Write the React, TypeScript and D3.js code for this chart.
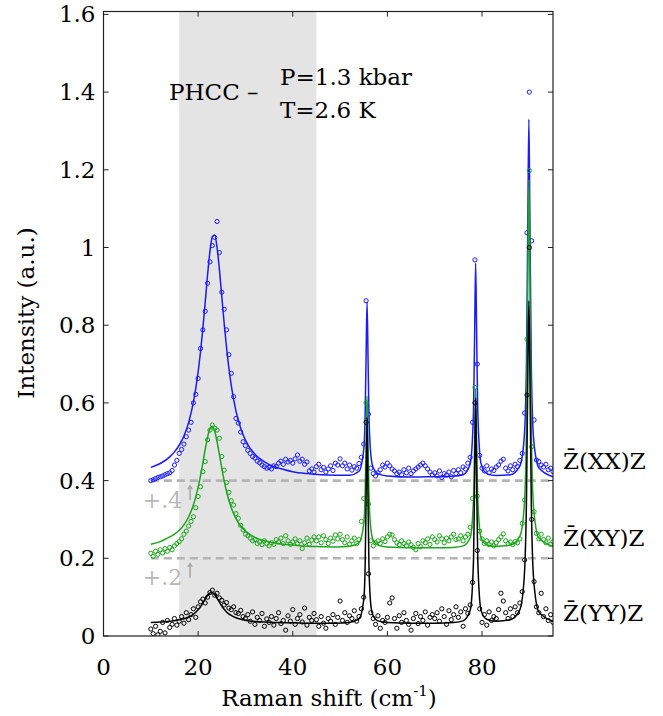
import React from "react";
import * as d3 from "d3";

// Raman spectra of PHCC, three polarisations, shifted by +0.2 / +0.4
const W = 663;
const H = 716;

const xTicks = [0, 20, 40, 60, 80];
const yTicks = [0, 0.2, 0.4, 0.6, 0.8, 1, 1.2, 1.4, 1.6];
const yTickLabels = ["0", "0.2", "0.4", "0.6", "0.8", "1", "1.2", "1.4", "1.6"];

const shadeRange = [16, 45];
const offsetLevels = [0.2, 0.4];
const offsetLabels = ["+.2", "+.4"];

// measured points sit on a 0.5 cm-1 grid from 10 to 95
const dataX = d3.range(171).map((i) => 10 + i * 0.5);

const yyData = [
  0.018, 0.006, 0.025, 0.003, 0.012, 0.035, 0.008, 0.040, 0.022, 0.030,
  0.045, 0.028, 0.038, 0.050, 0.033, 0.060, 0.042, 0.055, 0.070, 0.048,
  0.075, 0.088, 0.095, 0.085, 0.100, 0.112, 0.118, 0.105, 0.110, 0.098,
  0.092, 0.080, 0.086, 0.072, 0.068, 0.075, 0.060, 0.058, 0.066, 0.050,
  0.045, 0.055, 0.038, 0.062, 0.030, 0.048, 0.040, 0.058, 0.025, 0.044,
  0.035, 0.050, 0.028, 0.045, 0.060, 0.032, 0.040, 0.015, 0.052, 0.038,
  0.068, 0.030, 0.045, 0.055, 0.036, 0.072, 0.028, 0.048, 0.040, 0.058,
  0.042, 0.025, 0.050, 0.033, 0.020, 0.045, 0.038, 0.055, 0.030, 0.048,
  0.090, 0.040, 0.060, 0.035, 0.052, 0.045, 0.065, 0.038, 0.050, 0.070,
  0.100, 0.550, 0.160, 0.060, 0.045, 0.030, 0.052, 0.020, 0.040, 0.035,
  0.048, 0.085, 0.098, 0.045, 0.020, 0.052, 0.035, 0.060, 0.040, 0.030,
  0.015, 0.045, 0.058, 0.032, 0.050, 0.040, 0.062, 0.028, 0.048, 0.055,
  0.045, 0.060, 0.038, 0.070, 0.050, 0.030, 0.065, 0.042, 0.055, 0.075,
  0.048, 0.062, 0.025, 0.070, 0.058, 0.080, 0.138, 0.600, 0.220, 0.070,
  0.035, 0.055, 0.028, 0.062, 0.040, 0.050, 0.045, 0.068, 0.110, 0.090,
  0.060, 0.045, 0.070, 0.050, 0.075, 0.060, 0.085, 0.114, 0.196, 0.620,
  1.000, 0.300, 0.140, 0.075, 0.060, 0.110, 0.050, 0.070, 0.040, 0.055, 0.035,
];

const xyData = [
  0.213, 0.205, 0.218, 0.210, 0.222, 0.214, 0.225, 0.218, 0.228, 0.222,
  0.232, 0.238, 0.243, 0.250, 0.262, 0.270, 0.283, 0.295, 0.307, 0.330,
  0.359, 0.384, 0.423, 0.449, 0.505, 0.530, 0.543, 0.535, 0.530, 0.509,
  0.462, 0.427, 0.395, 0.370, 0.348, 0.337, 0.315, 0.303, 0.285, 0.273,
  0.262, 0.258, 0.252, 0.245, 0.248, 0.238, 0.242, 0.235, 0.245, 0.238,
  0.232, 0.240, 0.236, 0.248, 0.242, 0.252, 0.238, 0.258, 0.245, 0.236,
  0.242, 0.250, 0.238, 0.245, 0.225, 0.240, 0.252, 0.236, 0.247, 0.255,
  0.245, 0.255, 0.240, 0.258, 0.248, 0.238, 0.252, 0.244, 0.260, 0.250,
  0.262, 0.248, 0.240, 0.255, 0.236, 0.245, 0.252, 0.238, 0.248, 0.295,
  0.354, 0.600, 0.340, 0.245, 0.232, 0.240, 0.245, 0.238, 0.250, 0.243,
  0.255, 0.262, 0.260, 0.248, 0.240, 0.235, 0.245, 0.238, 0.232, 0.242,
  0.235, 0.228, 0.222, 0.238, 0.230, 0.245, 0.240, 0.250, 0.236, 0.255,
  0.248, 0.242, 0.258, 0.250, 0.240, 0.252, 0.245, 0.255, 0.262, 0.248,
  0.250, 0.258, 0.245, 0.255, 0.262, 0.280, 0.354, 0.640, 0.360, 0.270,
  0.250, 0.238, 0.245, 0.235, 0.242, 0.232, 0.240, 0.248, 0.255, 0.263,
  0.245, 0.238, 0.242, 0.235, 0.243, 0.240, 0.250, 0.290, 0.350, 0.764,
  1.198, 0.487, 0.320, 0.264, 0.250, 0.262, 0.248, 0.240, 0.252, 0.236, 0.243,
];

const xxData = [
  0.400, 0.402, 0.405, 0.408, 0.410, 0.412, 0.415, 0.418, 0.420, 0.426,
  0.440, 0.452, 0.470, 0.480, 0.494, 0.513, 0.530, 0.550, 0.600, 0.622,
  0.663, 0.740, 0.788, 0.836, 0.908, 0.963, 1.005, 1.026, 1.067, 0.987,
  0.885, 0.841, 0.788, 0.724, 0.676, 0.616, 0.560, 0.548, 0.525, 0.500,
  0.490, 0.478, 0.470, 0.462, 0.458, 0.450, 0.446, 0.440, 0.436, 0.432,
  0.434, 0.430, 0.438, 0.436, 0.445, 0.450, 0.442, 0.455, 0.448, 0.452,
  0.445, 0.456, 0.466, 0.450, 0.455, 0.442, 0.448, 0.425, 0.430, 0.422,
  0.436, 0.442, 0.428, 0.434, 0.422, 0.430, 0.438, 0.426, 0.445, 0.440,
  0.456, 0.438, 0.445, 0.430, 0.440, 0.427, 0.436, 0.432, 0.444, 0.460,
  0.494, 0.863, 0.571, 0.432, 0.418, 0.412, 0.420, 0.428, 0.440, 0.435,
  0.445, 0.438, 0.430, 0.425, 0.418, 0.422, 0.415, 0.428, 0.420, 0.432,
  0.418, 0.425, 0.430, 0.435, 0.440, 0.445, 0.438, 0.430, 0.422, 0.415,
  0.420, 0.412, 0.425, 0.408, 0.418, 0.414, 0.422, 0.410, 0.426, 0.418,
  0.428, 0.420, 0.435, 0.430, 0.445, 0.460, 0.550, 0.968, 0.700, 0.465,
  0.432, 0.425, 0.438, 0.420, 0.430, 0.426, 0.435, 0.440, 0.450, 0.455,
  0.432, 0.425, 0.438, 0.428, 0.442, 0.436, 0.452, 0.470, 0.574, 1.038,
  1.400, 1.017, 0.556, 0.453, 0.449, 0.440, 0.435, 0.442, 0.428, 0.432, 0.423,
];

// fitted curves, read at these shifts
const fitX = [
  10, 12, 14, 15, 16, 17, 18, 19, 20,
  20.5, 21, 21.5, 22, 22.5, 23, 23.5, 24, 24.5, 25, 25.5, 26,
  27, 28, 29, 30, 32, 34, 36, 38, 40, 43, 46, 49, 52, 54,
  55, 55.3, 55.5, 55.7, 55.9, 56.1, 56.5, 57, 58,
  60, 65, 70, 74, 76,
  77.5, 78.2, 78.45, 78.65, 78.85, 79.1, 79.8,
  81, 83, 86, 88,
  88.9, 89.4, 89.7, 89.9, 90.1, 90.4, 90.9,
  92, 95,
];

const xxFit = [
  0.434, 0.444, 0.461, 0.474, 0.491, 0.515, 0.550, 0.602, 0.680,
  0.731, 0.792, 0.860, 0.930, 0.990, 1.028, 1.032, 1.000, 0.943, 0.874, 0.805, 0.743,
  0.645, 0.579, 0.535, 0.504, 0.468, 0.448, 0.436, 0.429, 0.423, 0.418, 0.415, 0.414, 0.414, 0.424,
  0.480, 0.572, 0.722, 0.860, 0.722, 0.572, 0.466, 0.433, 0.418,
  0.412, 0.409, 0.410, 0.411, 0.415,
  0.443, 0.577, 0.790, 0.960, 0.790, 0.577, 0.443,
  0.418, 0.413, 0.415, 0.438,
  0.508, 0.710, 1.100, 1.330, 1.100, 0.710, 0.508,
  0.433, 0.410,
];

const xyFit = [
  0.236, 0.243, 0.255, 0.262, 0.272, 0.286, 0.307, 0.337, 0.383,
  0.412, 0.445, 0.481, 0.512, 0.534, 0.540, 0.527, 0.500, 0.467, 0.432, 0.400, 0.372,
  0.330, 0.302, 0.283, 0.270, 0.254, 0.245, 0.240, 0.236, 0.234, 0.231, 0.230, 0.229, 0.231, 0.240,
  0.288, 0.368, 0.498, 0.618, 0.498, 0.368, 0.276, 0.247, 0.234,
  0.229, 0.227, 0.227, 0.228, 0.232,
  0.253, 0.353, 0.511, 0.637, 0.511, 0.353, 0.253,
  0.235, 0.231, 0.234, 0.257,
  0.330, 0.539, 0.943, 1.175, 0.943, 0.539, 0.330,
  0.252, 0.231,
];

const yyFit = [
  0.035, 0.036, 0.038, 0.0395, 0.0415, 0.0445, 0.049, 0.056, 0.0675,
  0.075, 0.085, 0.095, 0.1046, 0.111, 0.1115, 0.106, 0.097, 0.087, 0.077, 0.069, 0.062,
  0.053, 0.047, 0.043, 0.0406, 0.0375, 0.036, 0.035, 0.034, 0.034, 0.033, 0.033, 0.033, 0.035, 0.044,
  0.093, 0.182, 0.356, 0.563, 0.356, 0.182, 0.080, 0.052, 0.039,
  0.035, 0.033, 0.033, 0.035, 0.039,
  0.066, 0.195, 0.417, 0.613, 0.417, 0.195, 0.066,
  0.043, 0.038, 0.042, 0.068,
  0.148, 0.357, 0.697, 0.863, 0.697, 0.357, 0.148,
  0.062, 0.038,
];

const seriesList = [
  { name: "Z\u0304(XX)Z", color: "#1a1aff", data: xxData, fit: xxFit, labelAt: 0.43 },
  { name: "Z\u0304(XY)Z", color: "#1aa51a", data: xyData, fit: xyFit, labelAt: 0.232 },
  { name: "Z\u0304(YY)Z", color: "#000000", data: yyData, fit: yyFit, labelAt: 0.038 },
];

const FONT = "'DejaVu Serif', 'Liberation Serif', 'Times New Roman', Times, 'Noto Serif', serif";

export default function App() {
  const left = 103.5, right = 553, top = 11.5, bottom = 636;
  const x = d3.scaleLinear().domain([0, 95]).range([left, right]);
  const y = d3.scaleLinear().domain([0, 1.6075]).range([bottom, top]);
  const tick = 5;
  const fs = 23;

  const fitLine = d3
    .line<number>()
    .x((_, i) => x(fitX[i]))
    .y((d) => y(d))
    .curve(d3.curveMonotoneX);

  return (
    <svg width={W} height={H} style={{ position: "absolute", left: 0, top: 0, background: "#fff", fontFamily: FONT }}>
      <defs>
        <clipPath id="plot">
          <rect x={left} y={top} width={right - left} height={bottom - top} />
        </clipPath>
      </defs>

      {/* shaded region */}
      <rect x={x(shadeRange[0])} y={top} width={x(shadeRange[1]) - x(shadeRange[0])} height={bottom - top} fill="#e4e4e4" />

      {/* offset guides */}
      {offsetLevels.map((lv, i) => (
        <g key={"off" + i}>
          <line x1={x(10)} x2={right} y1={y(lv)} y2={y(lv)} stroke="#b4b4b4" strokeWidth={2.6} strokeDasharray="8,5" />
          <line x1={x(18.3)} x2={x(18.3)} y1={y(lv - 0.05)} y2={y(lv - 0.022)} stroke="#a8a8a8" strokeWidth={1.6} />
          <path
            d={`M${x(18.3) - 3},${y(lv - 0.022)} L${x(18.3)},${y(lv - 0.01)} L${x(18.3) + 3},${y(lv - 0.022)} Z`}
            fill="#a8a8a8"
          />
          <text x={x(8.3)} y={y(lv - 0.07)} fontSize={22} fill="#b8b8b8">
            {offsetLabels[i]}
          </text>
        </g>
      ))}

      {/* spectra: blue under green under black */}
      <g clipPath="url(#plot)">
        {seriesList.map((s) => (
          <g key={s.name}>
            {s.data.map((v, i) => (
              <circle key={i} cx={x(dataX[i])} cy={y(v)} r={2.1} fill="none" stroke={s.color} strokeWidth={1} />
            ))}
            <path d={fitLine(s.fit) || ""} fill="none" stroke={s.color} strokeWidth={1.5} />
          </g>
        ))}
      </g>

      {/* frame and ticks */}
      <rect x={left} y={top} width={right - left} height={bottom - top} fill="none" stroke="#222" strokeWidth={1.2} />
      {xTicks.map((t) => (
        <g key={"xt" + t}>
          <line x1={x(t)} x2={x(t)} y1={bottom} y2={bottom - tick} stroke="#222" />
          <line x1={x(t)} x2={x(t)} y1={top} y2={top + tick} stroke="#222" />
          <text x={x(t)} y={bottom + 39} fontSize={fs} textAnchor="middle">
            {t}
          </text>
        </g>
      ))}
      {yTicks.map((t, i) => (
        <g key={"yt" + t}>
          <line x1={left} x2={left + tick} y1={y(t)} y2={y(t)} stroke="#222" />
          <line x1={right} x2={right - tick} y1={y(t)} y2={y(t)} stroke="#222" />
          <text x={left - 8} y={y(t) + 8} fontSize={fs} textAnchor="end">
            {yTickLabels[i]}
          </text>
        </g>
      ))}

      {/* axis titles */}
      <text x={329} y={706} fontSize={fs} textAnchor="middle">
        Raman shift (cm
        <tspan fontSize={15} dy={-10}>
          -1
        </tspan>
        <tspan dy={10}>)</tspan>
      </text>
      <text transform={`translate(34,${313}) rotate(-90)`} fontSize={fs} textAnchor="middle">
        Intensity (a.u.)
      </text>

      {/* annotation */}
      <text x={169} y={100} fontSize={fs}>PHCC –</text>
      <text x={280} y={85} fontSize={fs}>P=1.3 kbar</text>
      <text x={280} y={118} fontSize={fs}>T=2.6 K</text>

      {/* series labels */}
      {seriesList.map((s) => (
        <text key={"lab" + s.name} x={563} y={y(s.labelAt)} fontSize={fs}>
          {s.name}
        </text>
      ))}
    </svg>
  );
}
